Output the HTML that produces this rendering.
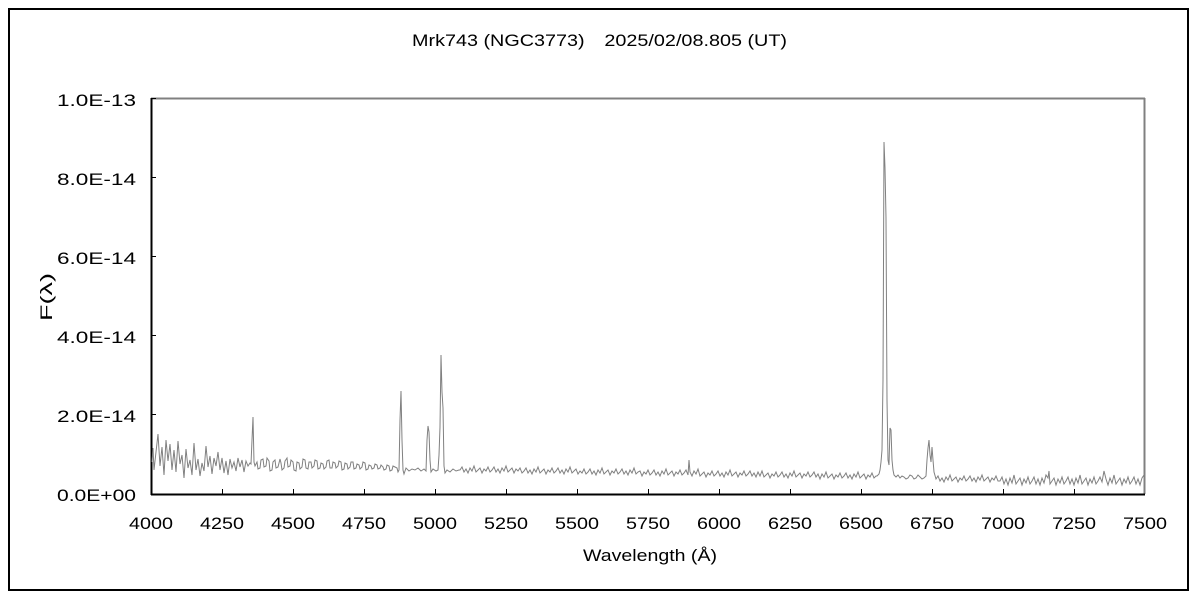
<!DOCTYPE html>
<html>
<head>
<meta charset="utf-8">
<style>
html,body{margin:0;padding:0;background:#fff;}
svg{display:block;}
text{font-family:"Liberation Sans","IPAGothic",sans-serif;fill:#000;}
</style>
</head>
<body>
<svg width="1200" height="600" viewBox="0 0 1200 600" xmlns="http://www.w3.org/2000/svg">
<rect x="0" y="0" width="1200" height="600" fill="#fff"/>
<rect x="9" y="9" width="1179" height="581" fill="none" stroke="#000" stroke-width="2"/>

<!-- title -->
<text x="412" y="46" font-size="17" textLength="375" lengthAdjust="spacingAndGlyphs">Mrk743 (NGC3773)　2025/02/08.805 (UT)</text>

<!-- plot frame -->
<line x1="151" y1="98.5" x2="1145" y2="98.5" stroke="#808080" stroke-width="2"/>
<line x1="1144.5" y1="98" x2="1144.5" y2="494" stroke="#808080" stroke-width="2"/>
<line x1="151.5" y1="98" x2="151.5" y2="495" stroke="#000" stroke-width="2"/>
<line x1="151" y1="494.5" x2="1145" y2="494.5" stroke="#000" stroke-width="2"/>

<!-- y ticks -->
<g stroke="#000" stroke-width="1">
<line x1="151" y1="98.5" x2="156" y2="98.5"/>
<line x1="151" y1="177.5" x2="156" y2="177.5"/>
<line x1="151" y1="256.5" x2="156" y2="256.5"/>
<line x1="151" y1="335.5" x2="156" y2="335.5"/>
<line x1="151" y1="414.5" x2="156" y2="414.5"/>
<!-- x ticks -->
<line x1="222.5" y1="494" x2="222.5" y2="489"/>
<line x1="293.5" y1="494" x2="293.5" y2="489"/>
<line x1="364.5" y1="494" x2="364.5" y2="489"/>
<line x1="435.5" y1="494" x2="435.5" y2="489"/>
<line x1="506.5" y1="494" x2="506.5" y2="489"/>
<line x1="577.5" y1="494" x2="577.5" y2="489"/>
<line x1="648.5" y1="494" x2="648.5" y2="489"/>
<line x1="719.5" y1="494" x2="719.5" y2="489"/>
<line x1="790.5" y1="494" x2="790.5" y2="489"/>
<line x1="861.5" y1="494" x2="861.5" y2="489"/>
<line x1="932.5" y1="494" x2="932.5" y2="489"/>
<line x1="1003.5" y1="494" x2="1003.5" y2="489"/>
<line x1="1074.5" y1="494" x2="1074.5" y2="489"/>
</g>

<!-- y tick labels -->
<g font-size="17" text-anchor="end">
<text x="136" y="106" textLength="79" lengthAdjust="spacingAndGlyphs">1.0E-13</text>
<text x="136" y="185" textLength="79" lengthAdjust="spacingAndGlyphs">8.0E-14</text>
<text x="136" y="264" textLength="79" lengthAdjust="spacingAndGlyphs">6.0E-14</text>
<text x="136" y="343" textLength="79" lengthAdjust="spacingAndGlyphs">4.0E-14</text>
<text x="136" y="422" textLength="79" lengthAdjust="spacingAndGlyphs">2.0E-14</text>
<text x="136" y="501" textLength="79" lengthAdjust="spacingAndGlyphs">0.0E+00</text>
</g>

<!-- x tick labels -->
<g font-size="17" text-anchor="middle">
<text x="151" y="529" textLength="44" lengthAdjust="spacingAndGlyphs">4000</text>
<text x="222" y="529" textLength="44" lengthAdjust="spacingAndGlyphs">4250</text>
<text x="293" y="529" textLength="44" lengthAdjust="spacingAndGlyphs">4500</text>
<text x="364" y="529" textLength="44" lengthAdjust="spacingAndGlyphs">4750</text>
<text x="435" y="529" textLength="44" lengthAdjust="spacingAndGlyphs">5000</text>
<text x="506" y="529" textLength="44" lengthAdjust="spacingAndGlyphs">5250</text>
<text x="577" y="529" textLength="44" lengthAdjust="spacingAndGlyphs">5500</text>
<text x="648" y="529" textLength="44" lengthAdjust="spacingAndGlyphs">5750</text>
<text x="719" y="529" textLength="44" lengthAdjust="spacingAndGlyphs">6000</text>
<text x="790" y="529" textLength="44" lengthAdjust="spacingAndGlyphs">6250</text>
<text x="861" y="529" textLength="44" lengthAdjust="spacingAndGlyphs">6500</text>
<text x="932" y="529" textLength="44" lengthAdjust="spacingAndGlyphs">6750</text>
<text x="1003" y="529" textLength="44" lengthAdjust="spacingAndGlyphs">7000</text>
<text x="1074" y="529" textLength="44" lengthAdjust="spacingAndGlyphs">7250</text>
<text x="1145" y="529" textLength="44" lengthAdjust="spacingAndGlyphs">7500</text>
</g>

<!-- axis titles -->
<text x="583" y="561" font-size="17" textLength="134" lengthAdjust="spacingAndGlyphs">Wavelength (Å)</text>
<text transform="translate(52,321) rotate(-90)" x="0" y="0" font-size="17" textLength="48" lengthAdjust="spacingAndGlyphs">F(λ)</text>

<!-- spectrum -->
<polyline fill="none" stroke="#808080" stroke-width="1" stroke-linejoin="miter" points="
152,462 153,448 154,470 156,452 158,434 160,466 162,447 164,475 166,440 168,461 170,444 172,470 174,450 176,472 178,441 180,464 182,455 184,478 186,449 188,468 190,460 192,475 194,443 196,470 198,459 200,476 202,463 204,471 206,446 208,467 210,456 212,474 214,458 216,466 218,452 220,470 222,458 224,473 226,461 228,475 230,459 232,468 234,462 236,471 238,458 240,467 242,460 244,472 246,461 248,466 250,463
251,464 252,440 253,417 254,462 255,466
257,462 258,469 260,468 261,460 263,459 264,467 266,466 267,458 269,461 270,471 272,470 273,462 275,460 276,468 278,467 280,459 281,463 282,470 284,468 285,461 287,458 288,467 290,466 291,460 293,462 294,470 296,471 297,462 299,463 300,469 302,467 303,459 305,460 306,468 308,469 309,462 311,462 312,468 314,466 315,460 317,461 318,469 320,468 321,463 323,464 324,469 326,467 327,461 329,460 330,468 332,468 333,462 335,463 336,468 338,466 339,461 341,462 342,470 344,469 345,463 347,464 348,469 350,467 351,462 353,462 354,469 356,468 357,464 359,465 360,469 362,467 363,462 365,463 366,470 368,469 369,465 371,466 372,469 374,468 375,464 377,465 378,469 380,468 381,465 383,467 384,470 386,469 387,465 389,466 390,471 392,470 393,466 395,467 397,468 398,472
399,470 400,420 401,391 402,440 403,470 404,474 406,468 409,471 412,469 415,470 418,468 421,471 424,469 426,471 427,440 428,426 429,432 430,460 431,472 433,469 436,471 438,470 439,455 440,427 441,355 442,392 443,408 444,466 445,473 447,470 450,472 453,469 456,471 459,470
460,470 462,467 464,472 466,469 468,473 470,468 472,471 474,466 476,472 478,470 480,468 482,473 484,469 486,471 488,467 490,472
492,470 494,467 496,472 498,469 500,473 502,468 504,471 506,466 508,472 510,470 512,468 514,473 516,469 518,471 520,468 522,473
524,471 526,468 528,473 530,470 532,474 534,469 536,472 538,467 540,473 542,471 544,469 546,474 548,470 550,472 552,468 554,473
556,471 558,468 560,473 562,470 564,474 566,469 568,472 570,467 572,473 574,471 576,469 578,474 580,471 582,473 584,469 586,474
588,472 590,469 592,474 594,471 596,475 598,470 600,473 602,468 604,474 606,472 608,470 610,475 612,471 614,473 616,469 618,474
620,472 622,469 624,474 626,471 628,475 630,470 632,473 634,468 636,474 638,472 640,471 642,476 644,472 646,474 648,470 650,475
652,473 654,470 656,475 658,472 660,476 662,471 664,474 666,469 668,475 670,473 672,471 674,476 676,472 678,474 680,470 682,475
684,473 686,470 688,475 689,460 690,472 692,476 694,471 696,474 698,469 700,476 702,474 704,472 706,477 708,473 710,475 712,471 714,476
716,474 718,471 720,476 722,473 724,477 726,472 728,475 730,470 732,476 734,474 736,472 738,477 740,473 742,475 744,471 746,476
748,474 750,471 752,476 754,473 756,477 758,472 760,476 762,471 764,477 766,475 768,473 770,478 772,474 774,476 776,472 778,477
780,475 782,472 784,477 786,474 788,478 790,473 792,476 794,471 796,477 798,475 800,473 802,478 804,474 806,476 808,472 810,477
812,475 814,472 816,477 818,474 820,479 822,474 824,477 826,472 828,478 830,476 832,474 834,479 836,475 838,477 840,473 842,478
844,476 846,473 848,478 850,475 852,479 854,474 856,477 858,472 860,478 862,476 864,474 866,479 868,475 870,477 872,473 874,478
876,476 877,476 879,474 880,470 881,462 882,450 883,380 884,142 885,168 886,218 887,400 888,460 889,465 890,428 891,430 892,460 893,470 894,475 896,477 898,475 900,478 902,476 904,477 906,479 908,478 910,475 912,476 914,479 916,478 918,475 920,477 922,479 924,478 926,476 927,460 928,448 929,440 930,455 931,462 932,447 933,460 934,472
936,479 938,476 940,481 942,478 944,482 946,477 948,480 950,475 952,481 954,479 956,477 958,482 960,478 962,480 964,476 966,481
968,479 970,476 972,481 974,478 976,482 978,477 980,480 982,475 984,481 986,479 988,477 990,482 992,478 994,480 996,476 998,481
1000,481 1002,477 1004,484 1006,479 1008,485 1010,478 1012,483 1014,475 1016,484 1018,481 1020,478 1022,485 1024,479 1026,483 1028,477 1030,484
1032,481 1034,477 1036,484 1038,479 1040,485 1042,478 1044,483 1046,475 1048,478 1049,471 1050,484 1052,481 1054,478 1056,485 1058,479 1060,483 1062,477 1064,484
1066,481 1068,477 1070,484 1072,479 1074,485 1076,478 1078,483 1080,475 1082,484 1084,481 1086,478 1088,485 1090,479 1092,483 1094,477 1096,484
1098,481 1100,477 1102,482 1104,471 1106,479 1108,485 1110,478 1112,483 1114,475 1116,484 1118,481 1120,478 1122,485 1124,479 1126,483 1128,477 1130,484
1132,481 1134,477 1136,484 1138,479 1140,485 1142,478 1144,475"/>
</svg>
</body>
</html>
